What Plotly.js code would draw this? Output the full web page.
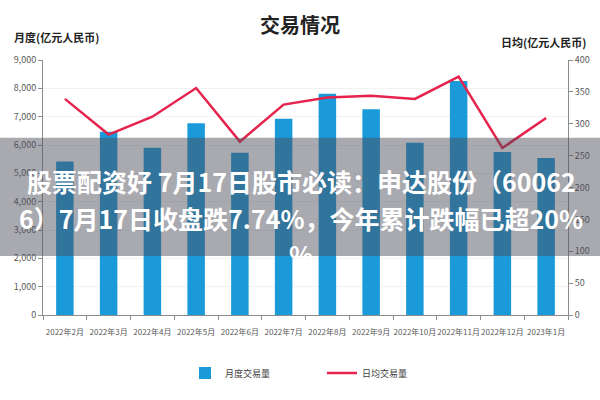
<!DOCTYPE html>
<html>
<head>
<meta charset="utf-8">
<script src="https://cdn.plot.ly/plotly-3.0.1.min.js"></script>
<style>
  html, body { margin: 0; padding: 0; background: #fff; }
  #chart { width: 600px; height: 400px; }
</style>
</head>
<body>
<div id="chart"></div>
<script>
// 月份
const months = ["2022年2月", "2022年3月", "2022年4月", "2022年5月", "2022年6月", "2022年7月",
                "2022年8月", "2022年9月", "2022年10月", "2022年11月", "2022年12月", "2023年1月"];
// 月度交易量 (亿元人民币)
const monthlyVolume = [5420, 6470, 5900, 6770, 5730, 6930, 7810, 7260, 6080, 8260, 5750, 5540];
// 日均交易量 (亿元人民币)
const dailyAvg = [339, 283, 311, 356, 272, 330, 341, 344, 339, 374, 262, 309];

const bannerLines = [
  "股票配资好 7月17日股市必读：申达股份（60062",
  "6）7月17日收盘跌7.74%，今年累计跌幅已超20%",
  "%"
];

const font = "Noto Sans CJK SC, sans-serif";
const tickFont = { family: font, size: 9, color: "#595959" };

const traces = [
  {
    x: months, y: monthlyVolume, type: "bar", name: "月度交易量",
    marker: { color: "#1a9ad8" }, width: 0.4, yaxis: "y",
  },
  {
    x: months, y: dailyAvg, type: "scatter", mode: "lines", name: "日均交易量",
    line: { color: "#e5234c", width: 2.5 }, yaxis: "y2",
  },
];

// plot area: x 43..568, y 60..319
const pw = 525, ph = 259;
const py = v => (319 - v) / ph;
const px = v => (v - 43) / pw;

const layout = {
  width: 600, height: 400,
  margin: { l: 43, r: 32, t: 60, b: 81 },
  paper_bgcolor: "#fff", plot_bgcolor: "#fff",
  font: { family: font, color: "#404040" },
  title: { text: "<b>交易情况</b>", font: { family: font, size: 20, color: "#222" },
           x: 0.5, xanchor: "center", y: 1 - 26 / 400, yanchor: "middle" },
  showlegend: true,
  legend: { orientation: "h", x: px(322), xanchor: "center", y: py(378), yanchor: "middle",
            font: { family: font, size: 9, color: "#404040" }, entrywidth: 92, itemwidth: 30 },
  xaxis: {
    type: "category", tickfont: { family: font, size: 8, color: "#595959" }, tickangle: 0,
    ticks: "outside", ticklen: 4, tickcolor: "#8c8c8c", ticklabelstandoff: 9,
    tickson: "boundaries", showline: true, linecolor: "#8c8c8c", linewidth: 1, showgrid: false,
  },
  yaxis: {
    range: [0, 9000], dtick: 1000, tickformat: ",d", tickfont: tickFont,
    ticks: "outside", ticklen: 4, tickcolor: "#8c8c8c",
    showline: true, linecolor: "#8c8c8c", gridcolor: "#f2f2f2", zeroline: false,
  },
  yaxis2: {
    range: [0, 400], dtick: 50, overlaying: "y", side: "right", tickfont: tickFont,
    ticks: "outside", ticklen: 4, tickcolor: "#8c8c8c",
    showline: true, linecolor: "#8c8c8c", showgrid: false, zeroline: false,
  },
  shapes: [
    { type: "rect", xref: "paper", yref: "paper", x0: px(0), x1: px(600), y0: py(259), y1: py(139),
      fillcolor: "rgba(75,75,90,0.48)", line: { width: 0 }, layer: "above" },
  ],
  annotations: [
    { text: "<b>月度(亿元人民币)</b>", xref: "paper", yref: "paper", x: px(12), y: py(37),
      xanchor: "left", yanchor: "middle", showarrow: false, font: { family: font, size: 11, color: "#222" } },
    { text: "<b>日均(亿元人民币)</b>", xref: "paper", yref: "paper", x: px(588), y: py(42),
      xanchor: "right", yanchor: "middle", showarrow: false, font: { family: font, size: 11, color: "#222" } },
    ...bannerLines.map((t, i) => ({
      text: "<b>" + t + "</b>", xref: "paper", yref: "paper", x: px(301), y: py(183 + i * 37),
      xanchor: "center", yanchor: "middle", showarrow: false,
      font: { family: font, size: 25, color: "#fff" },
    })),
  ],
};

Plotly.newPlot("chart", traces, layout, { displayModeBar: false, staticPlot: true });
</script>
</body>
</html>
